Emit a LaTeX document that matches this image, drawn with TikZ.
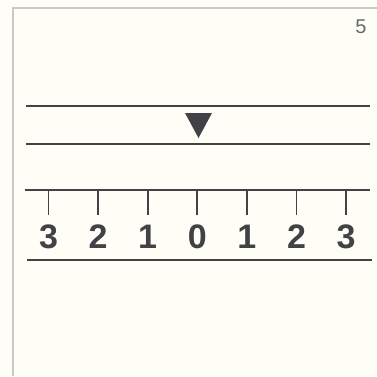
\documentclass[tikz,border=0pt]{standalone}
\usepackage{fontspec}
\setmainfont{Liberation Sans}
\definecolor{paper}{RGB}{254,254,246}
\definecolor{ink}{RGB}{66,66,70}
\definecolor{framec}{RGB}{200,200,198}
\definecolor{numc}{RGB}{105,105,105}
\begin{document}
\begin{tikzpicture}[x=1pt,y=-1pt,
  rule/.style={draw=ink,line width=2pt},
  tickmark/.style={draw=ink,line width=1.7pt},
  digit/.style={text=ink,font=\fontsize{34}{34}\selectfont\bfseries,inner sep=0pt,anchor=base}]
\fill[paper] (0,0) rectangle (377,376);
\useasboundingbox (0,0) rectangle (377,376);
\draw[framec,line width=2pt] (13,376) -- (13,8) -- (377,8);
\node[text=numc,font=\fontsize{20}{20}\selectfont,inner sep=0pt] (pg) at (361,27) {5};
\draw[rule] (26,106) -- (370,106);
\draw[rule] (26,144) -- (370,144);
\fill[ink] (185,113) -- (212,113) -- (198.5,138) -- cycle;
\draw[rule] (25,190) -- (370,190);
\foreach \i/\t in {0/3,1/2,2/1,3/0,4/1,5/2,6/3}{
  \pgfmathsetmacro\xx{48.5+49.6*\i}
  \draw[tickmark] (\xx,190) -- (\xx,215);
  \node[digit] (d\i) at (\xx,248) {\t};
}
\draw[rule] (27,260) -- (372,260);
\end{tikzpicture}
\end{document}
